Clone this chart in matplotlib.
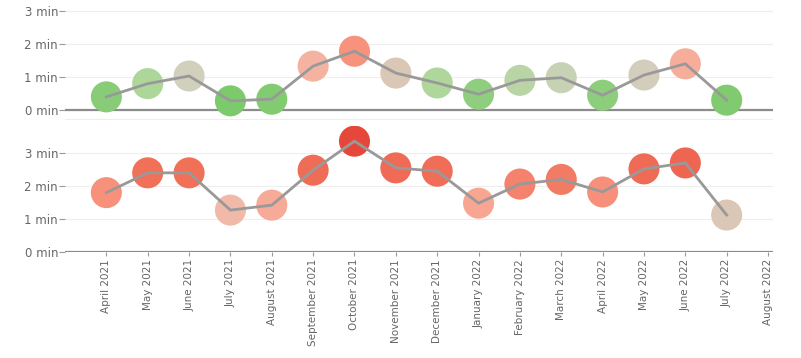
import matplotlib
matplotlib.use("Agg")
import matplotlib.pyplot as plt
from matplotlib.colors import LinearSegmentedColormap, Normalize
import numpy as np

months = ["April 2021", "May 2021", "June 2021", "July 2021", "August 2021",
          "September 2021", "October 2021", "November 2021", "December 2021",
          "January 2022", "February 2022", "March 2022", "April 2022",
          "May 2022", "June 2022", "July 2022", "August 2022"]

# minutes per month, upper panel (no value yet for August 2022)
top_vals = [0.40, 0.80, 1.03, 0.28, 0.33, 1.33, 1.78, 1.12, 0.82,
            0.48, 0.90, 0.98, 0.45, 1.06, 1.40, 0.30]
# minutes per month, lower panel
bottom_vals = [1.80, 2.40, 2.40, 1.27, 1.42, 2.48, 3.36, 2.55, 2.45,
               1.48, 2.06, 2.20, 1.82, 2.52, 2.70, 1.12]

# diverging green -> neutral -> red colour scale (min)
lo, hi = 0.25, 3.4
anchors = [(0.25, "#7bc96b"), (0.85, "#b2d79e"), (1.03, "#d0d0bd"),
           (1.12, "#dbc6b6"), (1.27, "#f2b8a6"), (1.45, "#f8a894"),
           (1.8, "#f7917c"), (2.4, "#f07058"), (2.7, "#ee6552"),
           (3.4, "#e4463a")]
cmap = LinearSegmentedColormap.from_list(
    "div", [((v - lo) / (hi - lo), c) for v, c in anchors])
norm = Normalize(lo, hi)

fig = plt.figure(figsize=(8.01, 3.58), dpi=100)
ax1 = fig.add_axes([65 / 801, 1 - 122 / 358, 708 / 801, 122 / 358])
ax2 = fig.add_axes([65 / 801, 1 - 252 / 358, 708 / 801, 126 / 358], sharex=ax1)

x = np.arange(len(top_vals))
grey_txt = "#666666"

for ax, vals, ylim in [(ax1, top_vals, (-0.36, 3.33)), (ax2, bottom_vals, (0, 3.82))]:
    ax.set_ylim(*ylim)
    for g in range(0, 4):
        ax.axhline(g, color="#eeeeee", lw=0.8, zorder=0)
    ax.axhline(0, color="#8c8c8c", lw=1.6, zorder=1)
    ax.scatter(x, vals, s=500, c=[cmap(norm(v)) for v in vals], edgecolors="none", zorder=2)
    ax.plot(x, vals, color="#999999", lw=2, zorder=3, solid_joinstyle="miter")
    ax.set_yticks([0, 1, 2, 3])
    ax.set_yticklabels([f"{g} min" for g in range(4)])
    ax.tick_params(axis="y", length=4, width=0.8, color="#999999", labelsize=8.5,
                   labelcolor=grey_txt, pad=1)
    for s in ax.spines.values():
        s.set_visible(False)

ax1.axhline(-0.28, color="#eeeeee", lw=0.8, zorder=0)
ax1.tick_params(axis="x", bottom=False, labelbottom=False)
ax2.set_xlim(-1, 16.12)
ax2.set_xticks(np.arange(len(months)))
ax2.set_xticklabels(months, rotation=90)
ax2.tick_params(axis="x", length=3, width=0.8, color="#999999", labelsize=7.5,
                labelcolor=grey_txt, pad=2)

fig.savefig("out.png", dpi=100, facecolor="white")
